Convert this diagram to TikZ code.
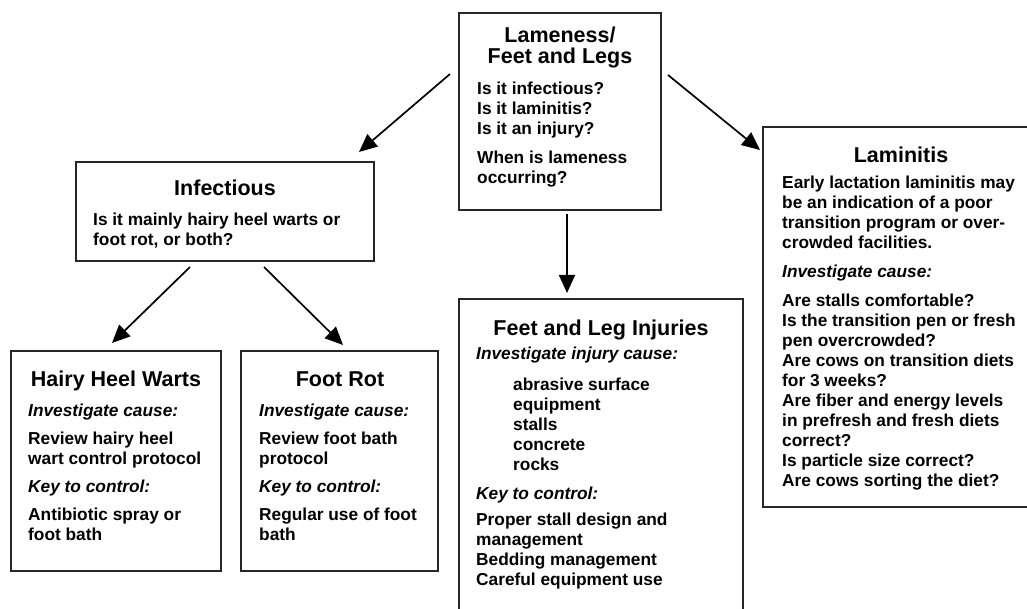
\documentclass[tikz,border=0pt]{standalone}
\usepackage{fontspec}
\setmainfont{Liberation Sans}
\usetikzlibrary{arrows.meta}
% strut that fixes the first baseline of a heading / body block
\newcommand\hdstrut{\rule{0pt}{18pt}}
\newcommand\bdstrut{\rule{0pt}{15pt}}
\newcommand\ital[1]{{\itshape #1}}
\newcommand\ind{\hspace*{37pt}}
\begin{document}
\begin{tikzpicture}[x=1pt,y=-1pt,
  panel/.style={draw=black!85, line width=1.7pt, fill=white, rectangle,
    inner sep=0pt, outer sep=0pt, anchor=north west},
  heading/.style={font=\fontsize{21.5}{21.5}\selectfont\bfseries,
    anchor=north, inner sep=0pt, align=center},
  body/.style={font=\fontsize{17.3}{20}\selectfont\bfseries,
    anchor=north west, inner sep=0pt, align=left},
  flow/.style={line width=1.7pt, draw=black,
    -{Triangle[length=18pt,width=16pt]}}]
\useasboundingbox (0,0) rectangle (1027,609);
\clip (0,0) rectangle (1027,609);
\fill[white] (0,0) rectangle (1027,609);

% top question box
\node[panel, minimum width=202pt, minimum height=197pt] (lam) at (459,13) {};
\node[heading] (lamT) at (560,24) {\hdstrut Lameness/\\Feet and Legs};
\node[body] (lamB) at (477,79) {\bdstrut Is it infectious?\\Is it laminitis?\\Is it an injury?\\[9pt]When is lameness\\occurring?};

% infectious branch
\node[panel, minimum width=298pt, minimum height=99pt] (inf) at (76,162) {};
\node[heading] (infT) at (225,177) {\hdstrut Infectious};
\node[body] (infB) at (93,210) {\bdstrut Is it mainly hairy heel warts or\\foot rot, or both?};

% hairy heel warts
\node[panel, minimum width=210pt, minimum height=220pt] (hhw) at (11,351) {};
\node[heading] (hhwT) at (116,368) {\hdstrut Hairy Heel Warts};
\node[body] (hhwB) at (28,401) {\bdstrut\ital{Investigate cause:}\\[8pt]Review hairy heel\\wart control protocol\\[8pt]\ital{Key to control:}\\[8pt]Antibiotic spray or\\foot bath};

% foot rot
\node[panel, minimum width=197pt, minimum height=220pt] (frt) at (241,351) {};
\node[heading] (frtT) at (340,368) {\hdstrut Foot Rot};
\node[body] (frtB) at (259,401) {\bdstrut\ital{Investigate cause:}\\[8pt]Review foot bath\\protocol\\[8pt]\ital{Key to control:}\\[8pt]Regular use of foot\\bath};

% injuries
\node[panel, minimum width=284pt, minimum height=340pt] (inj) at (459,299) {};
\node[heading] (injT) at (601,317) {\hdstrut Feet and Leg Injuries};
\node[body] (injB) at (476,344) {\bdstrut\ital{Investigate injury cause:}\\[11pt]\ind abrasive surface\\\ind equipment\\\ind stalls\\\ind concrete\\\ind rocks\\[9pt]\ital{Key to control:}\\[6pt]Proper stall design and\\management\\Bedding management\\Careful equipment use};

% laminitis
\node[panel, minimum width=276pt, minimum height=380pt] (lmt) at (763,127) {};
\node[heading] (lmtT) at (901,144) {\hdstrut Laminitis};
\node[body] (lmtB) at (782,173) {\bdstrut Early lactation laminitis may\\be an indication of a poor\\transition program or over-\\crowded facilities.\\[9pt]\ital{Investigate cause:}\\[9pt]Are stalls comfortable?\\Is the transition pen or fresh\\pen overcrowded?\\Are cows on transition diets\\for 3 weeks?\\Are fiber and energy levels\\in prefresh and fresh diets\\correct?\\Is particle size correct?\\Are cows sorting the diet?};

% connectors
\draw[flow] ([shift={(-9,61)}]lam.north west) -- ([shift={(283,-10)}]inf.north west);
\draw[flow] ([shift={(7,62)}]lam.north east) -- ([shift={(-3,23)}]lmt.north west);
\draw[flow] ([shift={(108,4)}]lam.south west) -- ([shift={(108,-6)}]inj.north west);
\draw[flow] ([shift={(114,6)}]inf.south west) -- ([shift={(101,-8)}]hhw.north west);
\draw[flow] ([shift={(188,6)}]inf.south west) -- ([shift={(102,-6)}]frt.north west);
\end{tikzpicture}
\end{document}
